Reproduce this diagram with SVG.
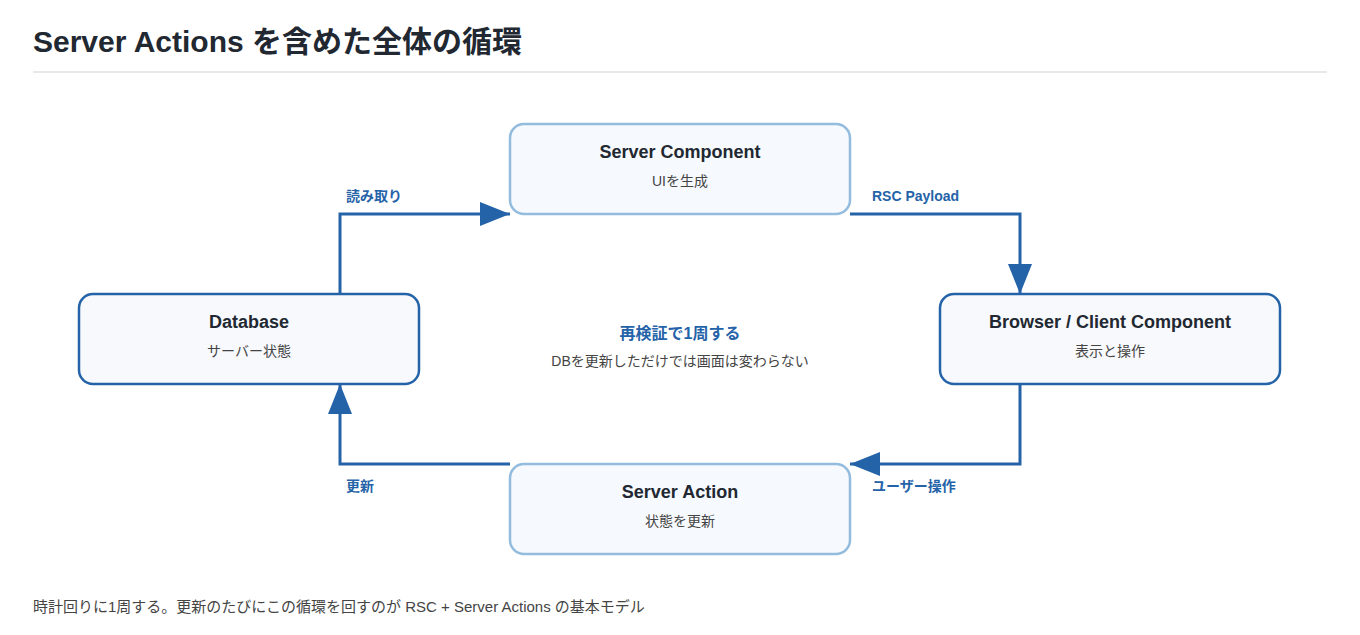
<svg xmlns="http://www.w3.org/2000/svg" width="1360" height="635" viewBox="0 0 1360 635">
<style>
text{font-family:"Liberation Sans","Noto Sans CJK JP",sans-serif}
.t{font-size:18px;font-weight:bold;fill:#222831;text-anchor:middle}
.s{font-size:14px;fill:#444;text-anchor:middle}
.l{font-size:14px;font-weight:bold;fill:#2563a8}
.lt{fill:#f6fafe;stroke:#92bbdd;stroke-width:2.5}
.dk{fill:#f7f9fc;stroke:#2563a8;stroke-width:2.5}
.c{fill:none;stroke:#2563a8;stroke-width:3}
</style>
<defs><marker id="a" markerWidth="10" markerHeight="8" refX="10" refY="4" orient="auto" markerUnits="strokeWidth"><path d="M0,0L10,4L0,8Z" fill="#2563a8"/></marker></defs>
<rect width="1360" height="635" fill="#fff"/>
<text x="33" y="52" font-size="30" font-weight="bold" fill="#222831">Server Actions を含めた全体の循環</text>
<line x1="33" y1="72" x2="1327" y2="72" stroke="#e6e8eb" stroke-width="2"/>
<g id="connectors">
<path class="c" d="M340,294V214H510" marker-end="url(#a)"/>
<path class="c" d="M850,214H1020V294" marker-end="url(#a)"/>
<path class="c" d="M1020,384V464H850" marker-end="url(#a)"/>
<path class="c" d="M510,464H340V384" marker-end="url(#a)"/>
<text class="l" x="346" y="201">読み取り</text>
<text class="l" x="872" y="201" font-size="15">RSC Payload</text>
<text class="l" x="872" y="491">ユーザー操作</text>
<text class="l" x="346" y="491">更新</text>
</g>
<g id="server-component"><rect class="lt" x="510" y="124" width="340" height="90" rx="14"/><text class="t" x="680" y="158">Server Component</text><text class="s" x="680" y="186">UIを生成</text></g>
<g id="database"><rect class="dk" x="79" y="294" width="340" height="90" rx="14"/><text class="t" x="249" y="328">Database</text><text class="s" x="249" y="356">サーバー状態</text></g>
<g id="browser"><rect class="dk" x="940" y="294" width="340" height="90" rx="14"/><text class="t" x="1110" y="328">Browser / Client Component</text><text class="s" x="1110" y="356">表示と操作</text></g>
<g id="server-action"><rect class="lt" x="510" y="464" width="340" height="90" rx="14"/><text class="t" x="680" y="498">Server Action</text><text class="s" x="680" y="526">状態を更新</text></g>
<g id="center"><text x="680" y="339" font-size="16" font-weight="bold" fill="#2563a8" text-anchor="middle">再検証で1周する</text><text class="s" x="680" y="366">DBを更新しただけでは画面は変わらない</text></g>
<text x="33" y="612" font-size="15" fill="#444">時計回りに1周する。更新のたびにこの循環を回すのが RSC + Server Actions の基本モデル</text>
</svg>
